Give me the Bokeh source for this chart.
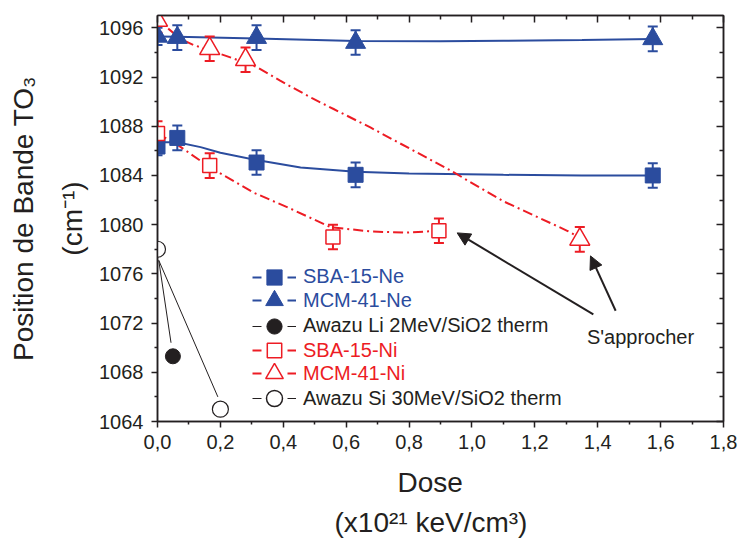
from bokeh.plotting import figure
from bokeh.models import (Range1d, LinearAxis, FixedTicker, Label, Arrow, NormalHead,
                          Legend, LegendItem, Title)
from bokeh.embed import file_html
from bokeh.resources import INLINE

BLUE = "#2B4C9E"
RED = "#ED1C24"
BLACK = "#231F20"
FONT = "Liberation Sans"
NAN = float("nan")

# ---------------- data ----------------
sba_ne_x = [0.0, 0.063, 0.315, 0.63, 1.575]
sba_ne_y = [1086.35, 1087.05, 1085.05, 1084.05, 1084.0]
sba_ne_err = [0.7, 1.0, 1.0, 1.0, 1.0]

mcm_ne_x = [0.0, 0.063, 0.315, 0.63, 1.575]
mcm_ne_y = [1095.3, 1095.2, 1095.2, 1094.8, 1095.1]
mcm_ne_err = [0.7, 1.0, 1.0, 1.0, 1.0]

sba_ni_x = [0.0, 0.166, 0.558, 0.895]
sba_ni_y = [1087.4, 1084.8, 1079.0, 1079.5]
sba_ni_err = [1.0, 1.0, 1.0, 1.0]

mcm_ni_x = [0.0, 0.166, 0.28, 1.343]
mcm_ni_y = [1096.6, 1094.3, 1093.4, 1078.8]
mcm_ni_err = [1.0, 1.0, 1.0, 1.0]

awazu_li_x = [0.049]
awazu_li_y = [1069.3]

awazu_si_x = [0.0, 0.2]
awazu_si_y = [1078.0, 1065.0]

# fitted curves
sba_ne_fit_x = [0.0, 0.063, 0.137, 0.2, 0.315, 0.455, 0.63, 0.8, 1.1, 1.35, 1.575]
sba_ne_fit_y = [1086.7, 1086.7, 1086.3, 1085.85, 1085.25, 1084.65, 1084.3, 1084.15, 1084.05, 1084.0, 1084.0]

mcm_ne_fit_x = [0.0, 0.063, 0.315, 0.63, 0.9, 1.1, 1.35, 1.575]
mcm_ne_fit_y = [1095.3, 1095.27, 1095.13, 1094.92, 1094.9, 1094.95, 1095.0, 1095.08]

sba_ni_fit_x = [0.0, 0.063, 0.17, 0.306, 0.423, 0.55, 0.677, 0.784, 0.895]
sba_ni_fit_y = [1087.4, 1086.5, 1084.6, 1082.6, 1081.3, 1079.8, 1079.45, 1079.35, 1079.5]

mcm_ni_fit_x = [0.0, 0.031, 0.073, 0.115, 0.22, 0.317, 0.39, 0.49, 0.56, 0.677, 0.932, 1.1, 1.303, 1.343]
mcm_ni_fit_y = [1097.3, 1096.0, 1095.1, 1094.6, 1093.7, 1092.8, 1091.7, 1090.3, 1089.4, 1087.9, 1084.4, 1081.9, 1079.5, 1078.95]

# pointer lines (open circle at 0 to the Awazu points)
ptr_x0 = [0.004, 0.004]
ptr_y0 = [1077.1, 1077.1]
ptr_x1 = [0.043, 0.192]
ptr_y1 = [1070.4, 1066.0]

# arrows from "S'approcher"
arrow_x0 = [1.386, 1.457]
arrow_y0 = [1072.7, 1073.0]
arrow_x1 = [0.953, 1.377]
arrow_y1 = [1079.33, 1077.46]
note_text = "S'approcher"
note_x = 1.536
note_y = 1070.84

x_ticks = [0, 0.2, 0.4, 0.6, 0.8, 1.0, 1.2, 1.4, 1.6, 1.8]
x_tick_labels = ["0,0", "0,2", "0,4", "0,6", "0,8", "1,0", "1,2", "1,4", "1,6", "1,8"]
x_minor_ticks = [0.1, 0.3, 0.5, 0.7, 0.9, 1.1, 1.3, 1.5, 1.7]
y_ticks = [1064, 1068, 1072, 1076, 1080, 1084, 1088, 1092, 1096]
y_minor_ticks = [1066, 1070, 1074, 1078, 1082, 1086, 1090, 1094]

legend_labels = ["SBA-15-Ne", "MCM-41-Ne", "Awazu Li 2MeV/SiO2 therm",
                 "SBA-15-Ni", "MCM-41-Ni", "Awazu Si 30MeV/SiO2 therm"]

x_title_1 = "Dose"
x_title_2 = "(x10²¹ keV/cm³)"
y_title_1 = "Position de Bande TO₃"
y_title_2 = "(cm⁻¹)"

# ---------------- figure ----------------
W, H = 740, 538
ML, MR, MT, MB = 157, 17, 15, 117
FY0 = H - MB

p = figure(width=W, height=H, x_range=Range1d(0, 1.8), y_range=Range1d(1064, 1097),
           output_backend="svg", toolbar_location=None,
           min_border_left=ML, min_border_right=MR, min_border_top=MT, min_border_bottom=MB)
p.grid.visible = False
p.outline_line_color = BLACK
p.outline_line_width = 1.5
p.background_fill_color = "white"
p.border_fill_color = "white"

def style_axis(ax, outside, labels):
    ax.axis_line_color = BLACK
    ax.axis_line_width = 1.5
    ax.major_tick_line_color = BLACK
    ax.minor_tick_line_color = BLACK
    ax.major_tick_line_width = 1.5
    ax.minor_tick_line_width = 1.5
    if outside:
        ax.major_tick_out, ax.major_tick_in = 6, 0
        ax.minor_tick_out, ax.minor_tick_in = 3, 0
    else:
        ax.major_tick_out, ax.major_tick_in = 0, 7
        ax.minor_tick_out, ax.minor_tick_in = 0, 4
    ax.major_label_text_font = FONT
    ax.major_label_text_color = BLACK
    if labels:
        ax.major_label_text_font_size = "20px"
    else:
        ax.major_label_text_font_size = "1px"
        ax.major_label_standoff = 0

p.xaxis.ticker = FixedTicker(ticks=x_ticks, minor_ticks=x_minor_ticks)
p.xaxis.major_label_overrides = dict(zip(x_ticks, x_tick_labels))
style_axis(p.xaxis[0], True, True)
p.xaxis.major_label_standoff = 7

p.yaxis.ticker = FixedTicker(ticks=y_ticks, minor_ticks=y_minor_ticks)
style_axis(p.yaxis[0], True, True)
p.yaxis.major_label_standoff = 8

top = LinearAxis(ticker=FixedTicker(ticks=x_ticks, minor_ticks=x_minor_ticks),
                 major_label_overrides={t: "" for t in x_ticks})
style_axis(top, False, False)
p.add_layout(top, "above")
right = LinearAxis(ticker=FixedTicker(ticks=y_ticks, minor_ticks=y_minor_ticks),
                   major_label_overrides={t: "" for t in y_ticks})
style_axis(right, False, False)
p.add_layout(right, "right")

# axis titles as stacked titles
def title(text, place, standoff, align="center", offset=0, valign="bottom"):
    p.add_layout(Title(text=text, align=align, offset=offset, standoff=standoff,
                       vertical_align=valign,
                       text_font=FONT, text_font_size="28px", text_font_style="normal",
                       text_color=BLACK), place)

title(x_title_1, "below", 27, "left", 240, "bottom")
title(x_title_2, "below", -10, "left", 177, "top")
title(y_title_2, "left", 17)
title(y_title_1, "left", 12, valign="top")

# fitted lines
p.line(sba_ne_fit_x, sba_ne_fit_y, line_color=BLUE, line_width=2)
p.line(mcm_ne_fit_x, mcm_ne_fit_y, line_color=BLUE, line_width=2)
p.line(sba_ni_fit_x, sba_ni_fit_y, line_color=RED, line_width=2, line_dash="10 4 2 4")
p.line(mcm_ni_fit_x, mcm_ni_fit_y, line_color=RED, line_width=2, line_dash="10 4 2 4")

# pointer lines
p.segment(ptr_x0, ptr_y0, ptr_x1, ptr_y1, line_color=BLACK, line_width=1)

def error_bars(xs, ys, errs, color):
    lo = [y - e for y, e in zip(ys, errs)]
    hi = [y + e for y, e in zip(ys, errs)]
    p.segment(xs, lo, xs, hi, line_color=color, line_width=2)
    p.scatter(xs, lo, marker="dash", size=10, line_color=color, line_width=2)
    p.scatter(xs, hi, marker="dash", size=10, line_color=color, line_width=2)

error_bars(sba_ne_x, sba_ne_y, sba_ne_err, BLUE)
error_bars(mcm_ne_x, mcm_ne_y, mcm_ne_err, BLUE)
error_bars(sba_ni_x, sba_ni_y, sba_ni_err, RED)
error_bars(mcm_ni_x, mcm_ni_y, mcm_ni_err, RED)

p.scatter(sba_ne_x, sba_ne_y, marker="square", size=15, fill_color=BLUE, line_color=BLUE)
p.scatter(mcm_ne_x, mcm_ne_y, marker="triangle", size=20, fill_color=BLUE, line_color=BLUE)
p.scatter(sba_ni_x, sba_ni_y, marker="square", size=14, fill_color="white", line_color=RED, line_width=1.5)
p.scatter(mcm_ni_x, mcm_ni_y, marker="triangle", size=20, fill_color="white", line_color=RED, line_width=1.5)
p.scatter(awazu_li_x, awazu_li_y, marker="circle", size=15, fill_color=BLACK, line_color=BLACK)
p.scatter(awazu_si_x, awazu_si_y, marker="circle", size=16, fill_color="white", line_color=BLACK, line_width=1.2)

# arrows + note
for x0, y0, x1, y1 in zip(arrow_x0, arrow_y0, arrow_x1, arrow_y1):
    p.add_layout(Arrow(x_start=x0, y_start=y0, x_end=x1, y_end=y1, line_color=BLACK, line_width=2,
                       end=NormalHead(size=13, fill_color=BLACK, line_color=BLACK, line_width=1)))
p.add_layout(Label(x=note_x, y=note_y, text=note_text, text_font=FONT, text_font_size="20px",
                   text_color=BLACK, text_align="center", text_baseline="alphabetic"))

# ---------------- legend (one per entry, own label colour) ----------------
legend_colors = [BLUE, BLUE, BLACK, RED, RED, BLACK]
legend_markers = ["square", "triangle", "circle", "square", "triangle", "circle"]
legend_fills = [BLUE, BLUE, BLACK, "white", "white", "white"]
legend_lw = [2, 2, 1, 2, 2, 1]
legend_gh = [38, 46, 38, 36, 46, 40]
legend_rows = [276.7, 300.0, 325.7, 350.0, 373.3, 398.3]   # canvas px centres
for lab, col, mk, fc, lw, gh, row in zip(legend_labels, legend_colors, legend_markers,
                                          legend_fills, legend_lw, legend_gh, legend_rows):
    lr = p.line(x=[NAN], y=[NAN], line_color=col, line_width=lw, line_dash="9 26")
    sr = p.scatter(x=[NAN], y=[NAN], marker=mk, fill_color=fc, line_color=col,
                   line_width=1.5 if fc == "white" else 1)
    leg = Legend(items=[LegendItem(label=lab, renderers=[lr, sr])],
                 location=(95, FY0 - row - gh / 2), glyph_width=44, glyph_height=gh,
                 label_standoff=7, label_text_font=FONT, label_text_font_size="20px",
                 label_text_color=col, label_text_baseline="middle",
                 padding=0, margin=0, spacing=0, border_line_alpha=0, background_fill_alpha=0)
    p.add_layout(leg)

open("out.html", "w").write(file_html(p, INLINE))
